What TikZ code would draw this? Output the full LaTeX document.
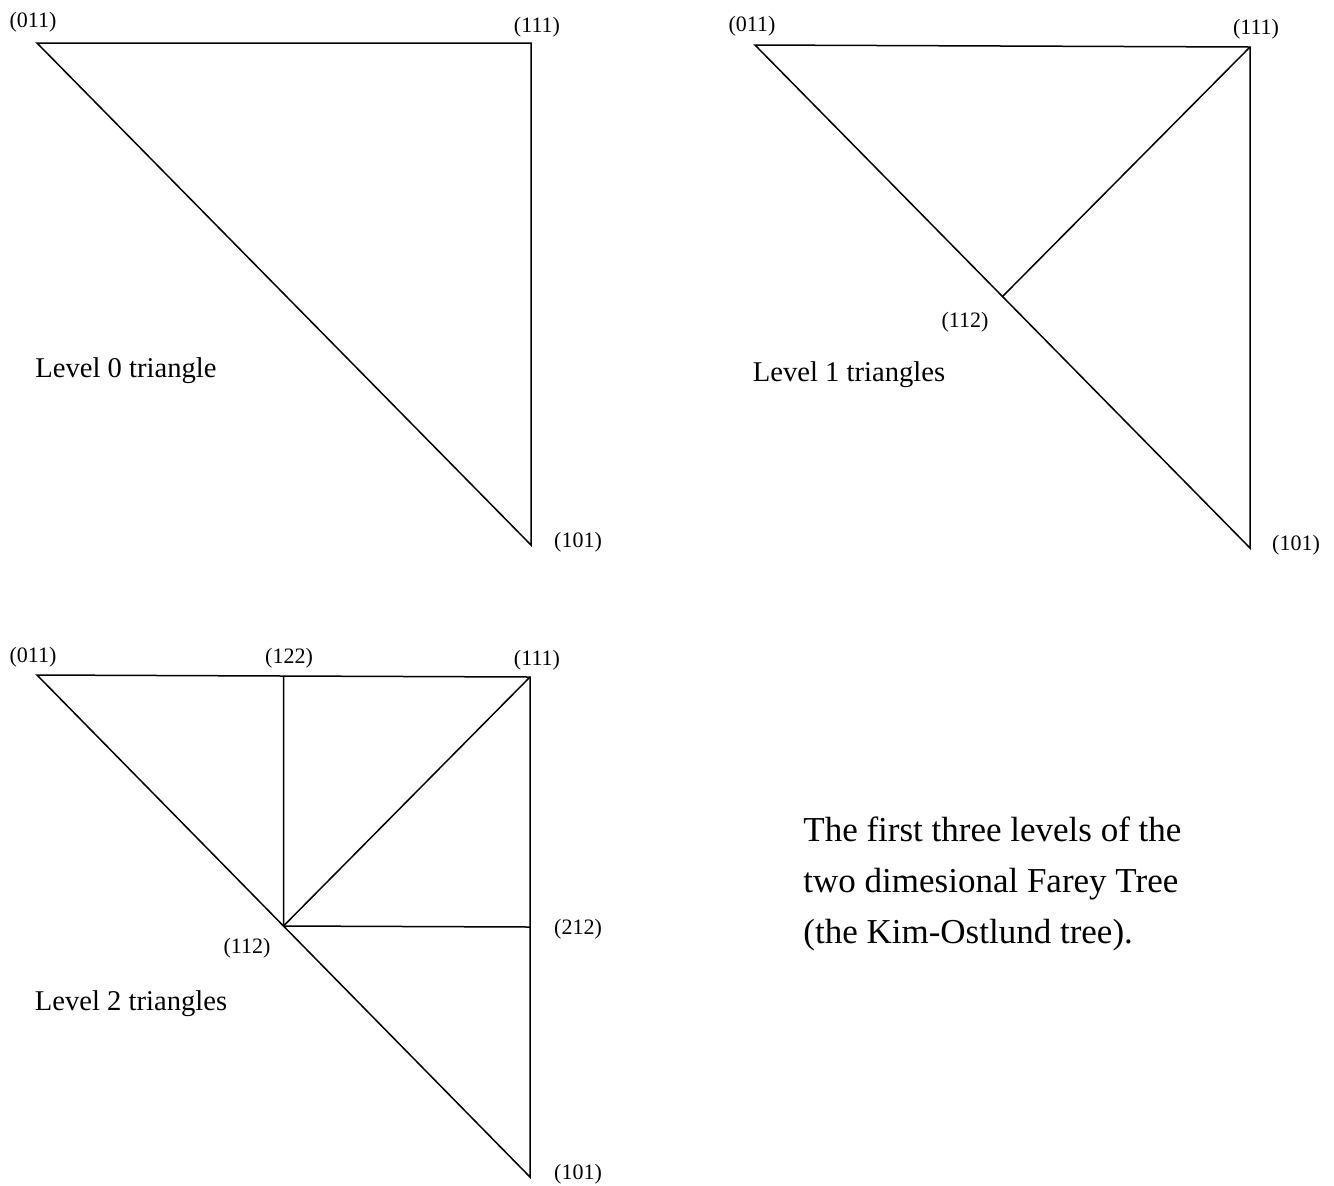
\documentclass[tikz,border=0pt]{standalone}
\usepackage{fontspec}
\setmainfont{Liberation Serif}
\usetikzlibrary{calc}
\tikzset{vlab/.style={font=\fontsize{11}{13}\selectfont,inner sep=0pt,yshift=-1pt},
  lvl/.style={font=\fontsize{14.3}{17}\selectfont,inner sep=0pt,yshift=-1.5pt},
  edge/.style={line width=0.75pt,line join=miter}}

\begin{document}
\begin{tikzpicture}[x=0.5pt,y=-0.5pt]
\useasboundingbox (0,0) rectangle (1334,1185);
% level 0
\begin{scope}
\coordinate (a011) at (37,43); \coordinate (a111) at (531,43); \coordinate (a101) at (531,545);
\draw[edge] (a011)--(a111)--(a101)--cycle;
\node[vlab] (la011) at (33,20) {(011)};
\node[vlab] (la111) at (537,25) {(111)};
\node[vlab] (la101) at (578,540) {(101)};
\node[lvl] (lev0) at (126,368) {Level 0 triangle};
\end{scope}
% level 1
\begin{scope}
\coordinate (b011) at (755,45); \coordinate (b111) at (1250,47); \coordinate (b101) at (1250,548);
\coordinate (b112) at ($(b011)!0.5!(b101)$);
\draw[edge] (b011)--(b111)--(b101)--cycle;
\draw[edge] (b111)--(b112);
\node[vlab] (lb011) at (752,24) {(011)};
\node[vlab] (lb111) at (1256,27) {(111)};
\node[vlab] (lb101) at (1296,543) {(101)};
\node[vlab] (lb112) at (965,320) {(112)};
\node[lvl] (lev1) at (849,372) {Level 1 triangles};
\end{scope}
% level 2
\begin{scope}
\coordinate (c011) at (37,675); \coordinate (c111) at (530,677); \coordinate (c101) at (530,1177);
\coordinate (c112) at ($(c011)!0.5!(c101)$);
\coordinate (c122) at ($(c011)!0.5!(c111)$);
\coordinate (c212) at ($(c111)!0.5!(c101)$);
\draw[edge] (c011)--(c111)--(c101)--cycle;
\draw[edge] (c111)--(c112);
\draw[edge] (c122)--(c112)--(c212);
\node[vlab] (lc011) at (33,655) {(011)};
\node[vlab] (lc122) at (289,656) {(122)};
\node[vlab] (lc111) at (537,658) {(111)};
\node[vlab] (lc212) at (578,927) {(212)};
\node[vlab] (lc112) at (247,946) {(112)};
\node[vlab] (lc101) at (578,1172) {(101)};
\node[lvl] (lev2) at (131,1001) {Level 2 triangles};
\end{scope}
% caption
\node[font=\fontsize{17.5}{25.5}\selectfont,align=left,anchor=west,inner sep=0pt] (cap) at (803,884)
  {The first three levels of the\\two dimesional Farey Tree\\(the Kim-Ostlund tree).};
\end{tikzpicture}
\end{document}
